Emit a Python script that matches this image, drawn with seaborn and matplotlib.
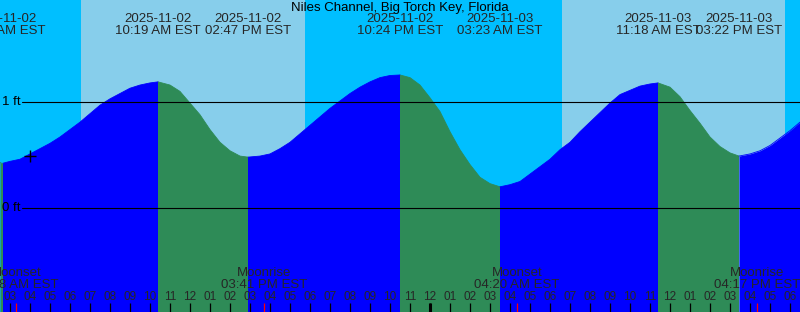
import numpy as np
import pandas as pd
import matplotlib
matplotlib.use("Agg")
import matplotlib.pyplot as plt
import seaborn as sns

# ---------------- data (hours since 02:30 AM EST, 2025-11-02) ----------------
title = "Niles Channel, Big Torch Key, Florida"

tide_t = [0.0, 0.1, 0.5, 1.0, 1.5, 2.0, 2.5, 3.0, 3.5, 4.0, 4.5, 5.0, 5.5, 6.0, 6.5, 7.0,
          7.5, 7.9, 8.5, 9.0, 9.5, 10.0, 10.5, 11.0, 11.5, 12.0, 12.4, 13.0, 13.5, 14.0,
          14.5, 15.0, 15.5, 16.0, 16.5, 17.0, 17.5, 18.0, 18.5, 19.0, 19.5, 20.0, 20.5,
          21.0, 21.5, 22.0, 22.5, 23.0, 23.5, 24.0, 24.5, 25.0, 25.5, 26.0, 26.5, 27.0,
          27.5, 28.0, 28.5, 29.0, 29.5, 30.0, 30.5, 31.0, 31.5, 32.0, 32.5, 32.9, 33.5,
          34.0, 34.5, 35.0, 35.5, 36.0, 36.5, 36.95, 37.5, 38.0, 38.5, 39.0, 39.5, 40.0]
tide_ft = [0.43, 0.42, 0.44, 0.46, 0.51, 0.56, 0.61, 0.67, 0.74, 0.81, 0.89, 0.97, 1.03, 1.08, 1.13, 1.16,
           1.18, 1.19, 1.16, 1.10, 0.99, 0.88, 0.74, 0.62, 0.54, 0.49, 0.48, 0.49, 0.51, 0.56,
           0.62, 0.70, 0.78, 0.86, 0.94, 1.01, 1.08, 1.14, 1.19, 1.23, 1.25, 1.255, 1.23,
           1.16, 1.04, 0.91, 0.72, 0.55, 0.41, 0.29, 0.23, 0.20, 0.22, 0.25, 0.32, 0.39,
           0.46, 0.55, 0.62, 0.72, 0.81, 0.90, 0.99, 1.07, 1.11, 1.15, 1.17, 1.18, 1.14,
           1.05, 0.92, 0.80, 0.67, 0.58, 0.52, 0.49, 0.51, 0.54, 0.59, 0.66, 0.73, 0.81]

# tide extremes (first one is a low)
extreme_t = [0.15, 7.9, 12.4, 20.0, 25.0, 32.9, 36.95]
extreme_date = ["2025-11-02", "2025-11-02", "2025-11-02", "2025-11-02",
                "2025-11-03", "2025-11-03", "2025-11-03"]
extreme_time = ["02:31 AM EST", "10:19 AM EST", "02:47 PM EST", "10:24 PM EST",
                "03:23 AM EST", "11:18 AM EST", "03:22 PM EST"]

# daylight intervals
day_start = [4.05, 28.1]
day_end = [15.25, 39.25]

# moon events
moon_t = [0.8, 13.2, 25.85, 37.85]
moon_event = ["Moonset", "Moonrise", "Moonset", "Moonrise"]
moon_time = ["03:18 AM EST", "03:41 PM EST", "04:20 AM EST", "04:17 PM EST"]

# hour ticks
hour_t = [h + 0.5 for h in range(40)]
hour_labels = ["03", "04", "05", "06", "07", "08", "09", "10", "11", "12",
               "01", "02", "03", "04", "05", "06", "07", "08", "09", "10",
               "11", "12", "01", "02", "03", "04", "05", "06", "07", "08",
               "09", "10", "11", "12", "01", "02", "03", "04", "05", "06"]
midnight_t = 21.5

ref_levels = [1.0, 0.0]
ref_labels = ["1 ft", "0 ft"]

marker_t, marker_h = 1.5, 0.49

# ---------------- styling ----------------
sns.set_theme(style="white")
plt.rcParams["font.family"] = ["Liberation Sans", "DejaVu Sans"]

NIGHT = "#00BFFF"
DAY = "#87CEEB"
RISE = "#0000FF"
FALL = "#2E8B57"
FS = 9.5
FS_H = 8.5

W, H = 800, 312
fig = plt.figure(figsize=(W / 100, H / 100), dpi=100)
ax = fig.add_axes([0, 0, 1, 1])
ax.set_axis_off()

ybot, ytop = -104 / 106, 208 / 106

# build segments rising / falling
t_arr = np.array(tide_t)
h_arr = np.array(tide_ft)
bounds = [0.0] + extreme_t + [40.0]
rows = []
for i in range(len(bounds) - 1):
    a, b = bounds[i], bounds[i + 1]
    phase = "falling" if i % 2 == 0 else "rising"
    m = (t_arr >= a - 1e-9) & (t_arr <= b + 1e-9)
    ts = list(t_arr[m])
    hs = list(h_arr[m])
    if ts[0] > a + 1e-9:
        ts.insert(0, a); hs.insert(0, float(np.interp(a, t_arr, h_arr)))
    if ts[-1] < b - 1e-9:
        ts.append(b); hs.append(float(np.interp(b, t_arr, h_arr)))
    for t, h in zip(ts, hs):
        rows.append({"t": t, "h": h, "seg": i, "phase": phase})
df = pd.DataFrame(rows)

# background
ax.axvspan(0, 40, color=NIGHT, lw=0, zorder=0)
for a, b in zip(day_start, day_end):
    ax.axvspan(a, b, color=DAY, lw=0, zorder=0.1)

pal = {"rising": RISE, "falling": FALL}
for seg, g in df.groupby("seg"):
    ax.fill_between(g["t"], g["h"], ybot - 1, color=pal[g["phase"].iloc[0]], lw=0, zorder=1)
sns.lineplot(data=df, x="t", y="h", hue="phase", units="seg", estimator=None,
             palette=pal, legend=False, lw=0.6, ax=ax, sort=False, zorder=2)

ax.set_xlim(0, 40)
ax.set_ylim(ybot, ytop)
ax.set_axis_off()

# reference lines
for lvl, lab in zip(ref_levels, ref_labels):
    ax.axhline(lvl, xmin=22 / W, xmax=1, color="black", lw=0.8, zorder=3)
    ax.text(0.1, lvl, lab, ha="left", va="center", fontsize=FS, color="black", zorder=5)

ax.plot([marker_t], [marker_h], marker="+", ms=9, mew=1.0, color="black", zorder=4, ls="none")

tr = ax.get_xaxis_transform()
def yf(p):
    return 1 - p / H

# title
ax.text(20, yf(7.5), title, ha="center", va="center", fontsize=FS, color="black",
        transform=tr, zorder=5)

# extreme labels
for t, d, s in zip(extreme_t, extreme_date, extreme_time):
    ax.text(t, yf(19.5), d, ha="center", va="center", fontsize=FS, transform=tr, zorder=5)
    ax.text(t, yf(31.5), s, ha="center", va="center", fontsize=FS, transform=tr, zorder=5)

# moon labels and red ticks
for t, e, s in zip(moon_t, moon_event, moon_time):
    ax.text(t, yf(273.5), e, ha="center", va="center", fontsize=FS, transform=tr, zorder=5)
    ax.text(t, yf(285.5), s, ha="center", va="center", fontsize=FS, transform=tr, zorder=5)

# hour ticks and labels
ax.vlines(hour_t, 0, 9 / H, colors="black", lw=0.9, transform=tr, zorder=4)
ax.vlines([midnight_t], 0, 9 / H, colors="black", lw=2.2, transform=tr, zorder=4)
ax.vlines(moon_t, 0, 9 / H, colors="red", lw=0.9, transform=tr, zorder=4.5)
for t, lab in zip(hour_t, hour_labels):
    ax.text(t, yf(297), lab, ha="center", va="center", fontsize=FS_H, transform=tr, zorder=5)

fig.savefig("out.png", dpi=100)
